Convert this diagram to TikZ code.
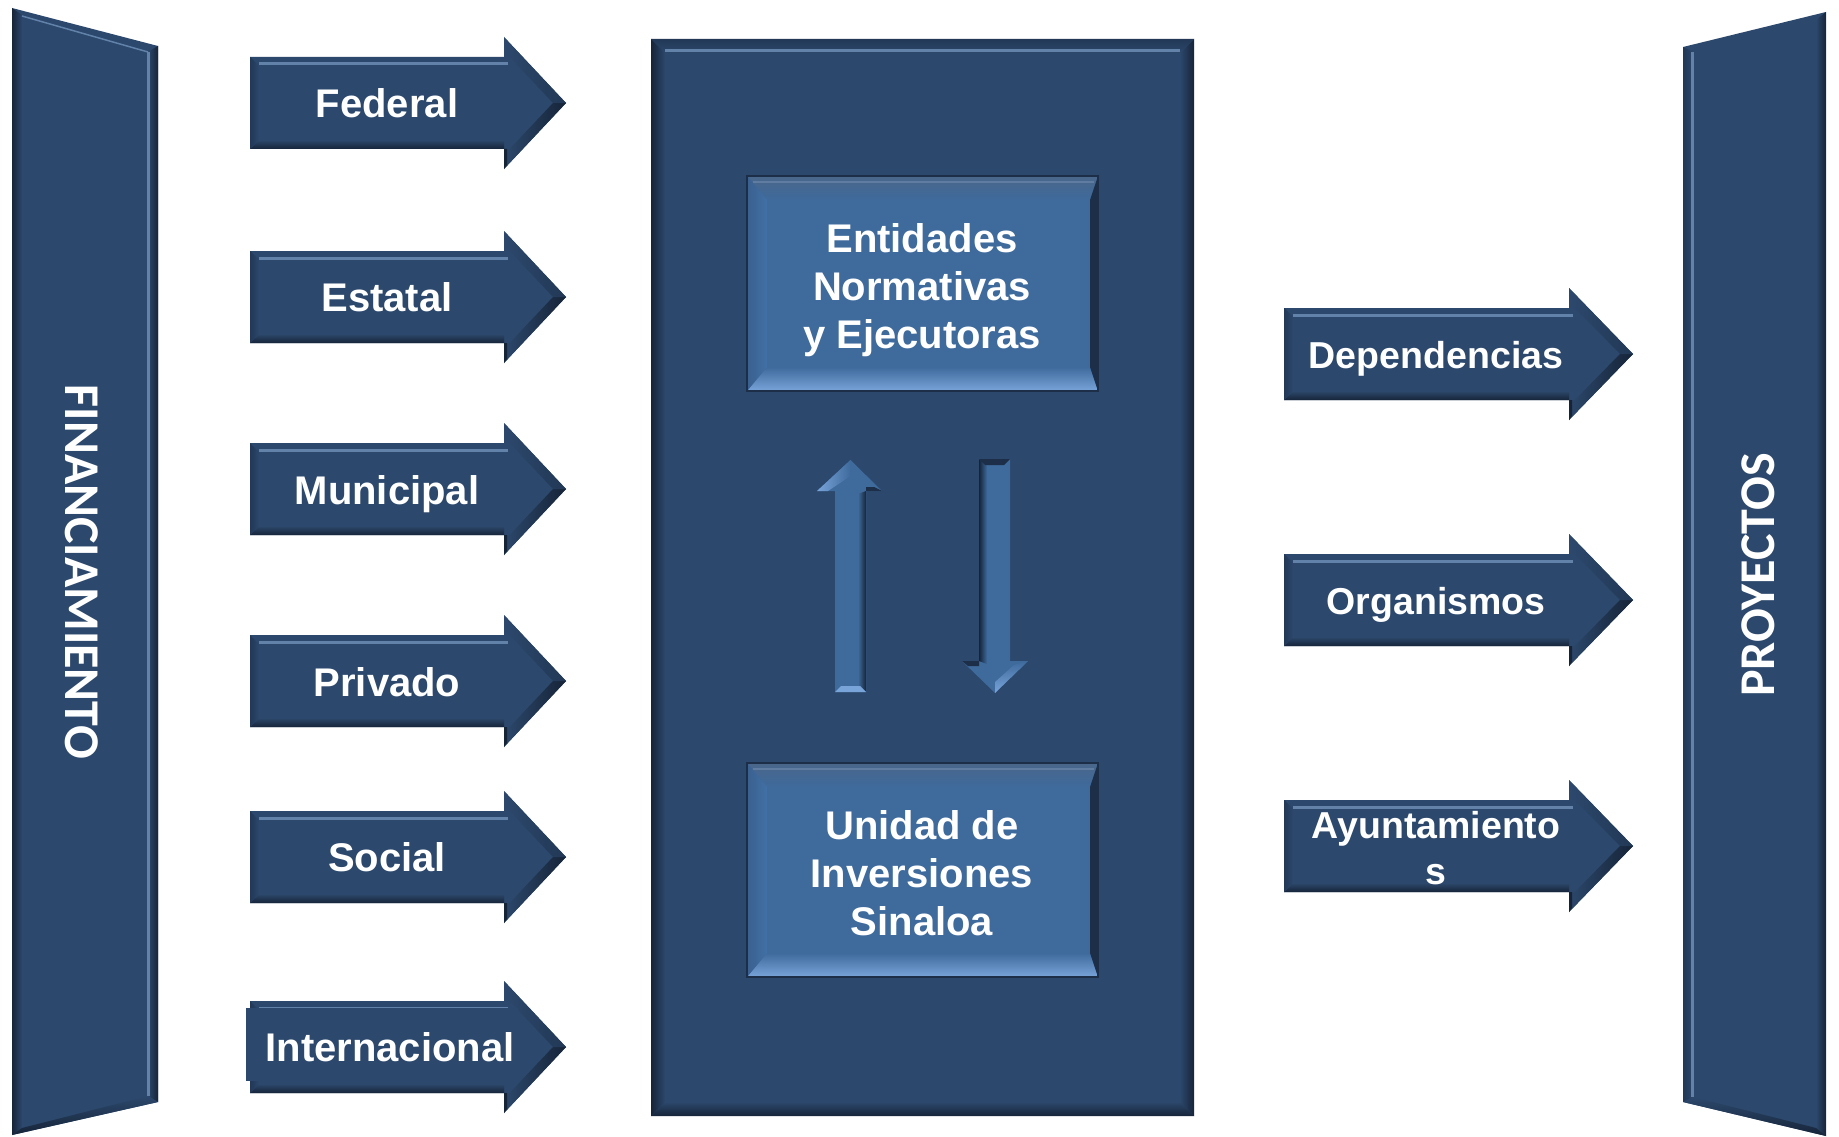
\documentclass[tikz,border=0pt]{standalone}
\usepackage{fontspec}
\setmainfont{Liberation Sans}
\newfontfamily\calfont{Carlito}
\definecolor{bmain}{RGB}{44,72,108}
\definecolor{bdark}{RGB}{22,36,56}
\definecolor{bmid}{RGB}{34,56,86}
\definecolor{blight}{RGB}{98,130,170}
\definecolor{imain}{RGB}{62,106,156}
\definecolor{ilight}{RGB}{120,164,218}
\definecolor{itop}{RGB}{74,102,138}
\definecolor{ileft}{RGB}{66,112,166}
\definecolor{ileftout}{RGB}{58,96,142}
\definecolor{idark}{RGB}{28,46,72}
\definecolor{ihl}{RGB}{96,124,160}
\tikzset{
  lbl/.style={text=white, font=\bfseries\fontsize{40}{48}\selectfont, align=center, inner sep=0pt, anchor=base},
  rlbl/.style={text=white, font=\bfseries\fontsize{37.5}{46}\selectfont, align=center, inner sep=0pt},
  boxlbl/.style={text=white, font=\bfseries\fontsize{40}{48}\selectfont, align=center, inner sep=0pt},
  vlbl/.style={text=white, font=\calfont\bfseries\fontsize{50}{58}\selectfont, inner sep=0pt}
}
% horizontal bevelled arrow: xa xb xt yc h H
\newcommand{\hbarrow}[6]{%
  \fill[bmain] ({#1},{#4-#5}) -- ({#2},{#4-#5}) -- ({#2},{#4-#6}) -- ({#3},{#4}) -- ({#2},{#4+#6}) -- ({#2},{#4+#5}) -- ({#1},{#4+#5}) -- cycle;
  \shade[top color=bmain, bottom color=bdark] ({#1},{#4+#5}) -- ({#2},{#4+#5}) -- ({#2},{#4+#5-9}) -- ({#1+9},{#4+#5-9}) -- cycle;
  \shade[left color=bmid, right color=bmain] ({#1},{#4-#5}) -- ({#1+9},{#4-#5+9}) -- ({#1+9},{#4+#5-9}) -- ({#1},{#4+#5}) -- cycle;
  \draw[blight, line width=3pt] ({#1+9},{#4-#5+7}) -- ({#2+4},{#4-#5+7});
  \shade[left color=bmain, right color=bdark] ({#3},{#4}) -- ({#2},{#4+#6}) -- ({#2},{#4+#6-14}) -- ({#3-13},{#4}) -- cycle;
  \shade[left color=bmain, right color=bmid] ({#3},{#4}) -- ({#2},{#4-#6}) -- ({#2},{#4-#6+14}) -- ({#3-13},{#4}) -- cycle;
  \fill[bdark] ({#2},{#4+#5}) -- ({#2},{#4+#6}) -- ({#2+3},{#4+#6-4}) -- ({#2+3},{#4+#5}) -- cycle;
}
% inner bevelled box: x1 y1 x2 y2
\newcommand{\ibox}[4]{%
  \fill[imain] ({#1},{#2}) rectangle ({#3},{#4});
  \shade[top color=itop, bottom color=imain] ({#1},{#2}) -- ({#3},{#2}) -- ({#3-8},{#2+24}) -- ({#1+20},{#2+24}) -- cycle;
  \shade[top color=imain, bottom color=ilight] ({#1},{#4}) -- ({#3},{#4}) -- ({#3-8},{#4-24}) -- ({#1+20},{#4-24}) -- cycle;
  \shade[left color=ileftout, right color=ileft] ({#1},{#2}) -- ({#1+20},{#2+24}) -- ({#1+20},{#4-24}) -- ({#1},{#4}) -- cycle;
  \fill[idark] ({#3},{#2}) -- ({#3-8},{#2+24}) -- ({#3-8},{#4-24}) -- ({#3},{#4}) -- cycle;
  \draw[idark, line width=1.5pt] ({#1},{#2}) rectangle ({#3},{#4});
  \draw[ihl, line width=2pt] ({#1+6},{#2+6}) -- ({#3-4},{#2+6});
}
\begin{document}
\begin{tikzpicture}[x=1pt,y=-1pt]
\useasboundingbox (0,0) rectangle (1839,1137);
\fill[white] (0,0) rectangle (1839,1137);

% ---------- left banner ----------
\fill[bmain] (12,8) -- (158,46) -- (158,1102) -- (12,1135) -- cycle;
\shade[left color=bdark, right color=bmain] (12,8) -- (22,15) -- (22,1128) -- (12,1135) -- cycle;
\shade[left color=bmain, right color=bdark] (148,52) -- (158,46) -- (158,1102) -- (148,1096) -- cycle;
\draw[blight, line width=3pt] (148,52) -- (148,1096);
\shade[top color=bmain, bottom color=bdark] (22,1128) -- (148,1096) -- (158,1102) -- (12,1135) -- cycle;
\draw[blight, line width=1.5pt] (22,16) -- (148,52);
\node[vlbl, rotate=-90] (fin) at (82,572) {FINANCIAMIENTO};

% ---------- right banner ----------
\fill[bmain] (1683,47) -- (1826,12) -- (1826,1136) -- (1683,1102) -- cycle;
\shade[left color=bmid, right color=bmain] (1683,47) -- (1693,52) -- (1693,1097) -- (1683,1102) -- cycle;
\draw[blight, line width=3pt] (1692,52) -- (1692,1097);
\shade[left color=bmain, right color=bdark] (1816,20) -- (1826,12) -- (1826,1136) -- (1816,1128) -- cycle;
\shade[top color=bmain, bottom color=bdark] (1693,1097) -- (1816,1128) -- (1826,1136) -- (1683,1102) -- cycle;
\node[vlbl, rotate=90] (proy) at (1758,575) {PROYECTOS};

% ---------- left arrows ----------
\hbarrow{250}{504}{566}{103}{46}{66}
\hbarrow{250}{504}{566}{297}{46}{66}
\hbarrow{250}{504}{566}{489}{46}{66}
\hbarrow{250}{504}{566}{681}{46}{66}
\hbarrow{250}{504}{566}{857}{46}{66}
\hbarrow{250}{504}{566}{1047}{46}{66}
\node[lbl] (federal) at (387,117.5) {Federal};
\node[lbl] (estatal) at (387,311.5) {Estatal};
\node[lbl] (municipal) at (387,504) {Municipal};
\node[lbl] (privado) at (387,696) {Privado};
\node[lbl] (social) at (387,871.5) {Social};
\fill[bmain] (246,1008) rectangle (518,1081);
\node[lbl] (internacional) at (390,1061.5) {Internacional};

% ---------- central box ----------
\fill[bmain] (651,39) rectangle (1194,1116);
\shade[left color=bdark, right color=bmain] (651,39) -- (665,53) -- (665,1102) -- (651,1116) -- cycle;
\shade[left color=bmain, right color=bdark] (1194,39) -- (1180,53) -- (1180,1102) -- (1194,1116) -- cycle;
\shade[top color=bmain, bottom color=bdark] (651,1116) -- (665,1102) -- (1180,1102) -- (1194,1116) -- cycle;
\shade[top color=bmid, bottom color=bmain] (651,39) -- (1194,39) -- (1180,53) -- (665,53) -- cycle;
\draw[blight, line width=3pt] (665,51) -- (1180,51);

\ibox{747}{176}{1098}{391}
\ibox{747}{763}{1098}{977}
\node[boxlbl] (entidades) at (922,290) {Entidades\\Normativas\\y Ejecutoras};
\node[boxlbl] (unidad) at (922,873) {Unidad de\\Inversiones\\Sinaloa};

% up arrow
\fill[imain] (835,692) -- (835,491) -- (817,491) -- (850.5,460) -- (882,491) -- (866,491) -- (866,692) -- cycle;
\shade[left color=imain, right color=bdark] (858,494) -- (866,491) -- (866,692) -- (858,686) -- cycle;
\shade[left color=ilight, right color=imain] (817,491) -- (850.5,460) -- (850.5,476) -- (828,491) -- cycle;
\fill[idark] (866,491) -- (882,491) -- (874,487) -- (866,487) -- cycle;
\fill[ilight] (835,692) -- (866,692) -- (860,686) -- (841,686) -- cycle;
% down arrow
\fill[imain] (979,459) -- (1010,459) -- (1010,661) -- (1028,661) -- (995,693) -- (962,661) -- (979,661) -- cycle;
\shade[left color=bdark, right color=imain] (979,459) -- (987,465) -- (987,664) -- (979,661) -- cycle;
\fill[idark] (979,459) -- (1010,459) -- (1004,465) -- (985,465) -- cycle;
\shade[top color=imain, bottom color=ilight] (995,693) -- (1028,661) -- (1014,665) -- (995,682) -- cycle;
\fill[idark] (962,661) -- (979,661) -- (979,666) -- (968,666) -- cycle;

% ---------- right arrows ----------
\hbarrow{1284}{1569}{1633}{354}{46}{66}
\hbarrow{1284}{1569}{1633}{600}{46}{66}
\hbarrow{1284}{1569}{1633}{846}{46}{66}
\node[rlbl, anchor=base] (dep) at (1436,368) {Dependencias};
\node[rlbl, anchor=base] (org) at (1436,614) {Organismos};
\node[rlbl] (ayu) at (1436,848) {Ayuntamiento\\s};
\end{tikzpicture}
\end{document}
